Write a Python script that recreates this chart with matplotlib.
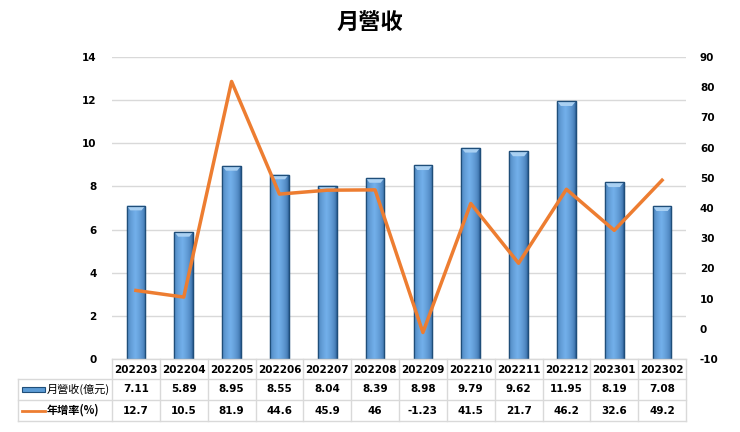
import matplotlib
matplotlib.use("Agg")
import matplotlib.pyplot as plt
import numpy as np
from matplotlib.patches import Rectangle, Polygon

plt.rcParams['font.family'] = ['DejaVu Sans', 'Noto Sans CJK TC']
plt.rcParams['axes.unicode_minus'] = False

months = ['202203', '202204', '202205', '202206', '202207', '202208',
          '202209', '202210', '202211', '202212', '202301', '202302']
revenue = [7.11, 5.89, 8.95, 8.55, 8.04, 8.39, 8.98, 9.79, 9.62, 11.95, 8.19, 7.08]
yoy = [12.7, 10.5, 81.9, 44.6, 45.9, 46, -1.23, 41.5, 21.7, 46.2, 32.6, 49.2]
rev_labels = ['7.11', '5.89', '8.95', '8.55', '8.04', '8.39', '8.98', '9.79', '9.62', '11.95', '8.19', '7.08']
yoy_labels = ['12.7', '10.5', '81.9', '44.6', '45.9', '46', '-1.23', '41.5', '21.7', '46.2', '32.6', '49.2']
series_names = ['月營收(億元)', '年增率(%)']
title = '月營收'

W, H = 740, 432
fig = plt.figure(figsize=(W / 100, H / 100), dpi=100)

def fx(px):
    return px / W

def fy(py):
    return 1 - py / H

L, R, T, B = 112, 686, 57, 359
ax = fig.add_axes([fx(L), fy(B), fx(R) - fx(L), fy(T) - fy(B)])
x = np.arange(len(months))
ax.set_xlim(-0.5, len(months) - 0.5)
ax.set_ylim(0, 14)
ax.set_yticks(np.arange(0, 15, 2))
for s in ax.spines.values():
    s.set_visible(False)
ax.tick_params(axis='both', length=0)
ax.set_xticks([])
ax.grid(axis='y', color='#d9d9d9', linewidth=1)
ax.set_axisbelow(True)
for lab in ax.get_yticklabels():
    lab.set_fontweight('bold')
    lab.set_fontsize(7.5)
ax.tick_params(axis='y', pad=11)

bar_w = 0.39
bars = ax.bar(x, revenue, width=bar_w, color='#5b9bd5', edgecolor='#1f4e79', linewidth=0.9, zorder=2)
# cylinder-like gradient
grad = np.linspace(0, 1, 64)
prof = 1 - np.abs(grad - 0.45) * 1.9
prof = np.clip(prof, 0, 1) ** 0.45
c_dark = np.array([0.18, 0.38, 0.60])
c_light = np.array([0.45, 0.69, 0.92])
img = c_dark[None, :] + (c_light - c_dark)[None, :] * prof[:, None]
img = img[None, :, :]
top_h = 0.22
for b in bars:
    x0, w, h = b.get_x(), b.get_width(), b.get_height()
    im = ax.imshow(img, extent=[x0, x0 + w, 0, h], aspect='auto', zorder=2.1, interpolation='bilinear')
    im.set_clip_path(b)
    ins = w * 0.2
    ax.add_patch(Polygon([(x0, h), (x0 + w, h), (x0 + w - ins, h - top_h), (x0 + ins, h - top_h)],
                         closed=True, facecolor='#a9d0f2', edgecolor='none', zorder=2.2))
    ax.add_patch(Rectangle((x0, 0), w, h, facecolor='none', edgecolor='#1f4e79', linewidth=0.9, zorder=2.3))

ax2 = ax.twinx()
ax2.set_ylim(-10, 90)
ax2.set_yticks(np.arange(-10, 91, 10))
for s in ax2.spines.values():
    s.set_visible(False)
ax2.tick_params(axis='y', length=0, pad=10)
for lab in ax2.get_yticklabels():
    lab.set_fontweight('bold')
    lab.set_fontsize(7.5)
ax2.plot(x, yoy, color='#ed7d31', linewidth=2.5, zorder=3)

fig.text(0.5, fy(22), title, ha='center', va='center', fontsize=16, fontweight='bold',
         family=['Noto Sans CJK TC', 'DejaVu Sans'])

# data table
TL = 18
rows_y = [359, 379, 400, 421]
tab = fig.add_axes([0, 0, 1, 1], facecolor='none')
tab.set_xlim(0, W)
tab.set_ylim(H, 0)
tab.axis('off')
cw = (R - L) / len(months)
gc = '#d9d9d9'
tab.plot([L, R], [rows_y[0], rows_y[0]], color=gc, lw=1)
for yy in rows_y[1:]:
    tab.plot([TL, R], [yy, yy], color=gc, lw=1)
for i in range(len(months) + 1):
    xx = L + i * cw
    tab.plot([xx, xx], [rows_y[0], rows_y[3]], color=gc, lw=1)
tab.plot([TL, TL], [rows_y[1], rows_y[3]], color=gc, lw=1)

fs = 7.5
for i, m in enumerate(months):
    cx = L + (i + 0.5) * cw
    tab.text(cx, (rows_y[0] + rows_y[1]) / 2 + 1, m, ha='center', va='center', fontsize=fs, fontweight='bold')
    tab.text(cx, (rows_y[1] + rows_y[2]) / 2, rev_labels[i], ha='center', va='center', fontsize=fs, fontweight='bold')
    tab.text(cx, (rows_y[2] + rows_y[3]) / 2, yoy_labels[i], ha='center', va='center', fontsize=fs, fontweight='bold')

r1 = (rows_y[1] + rows_y[2]) / 2
r2 = (rows_y[2] + rows_y[3]) / 2
tab.add_patch(Rectangle((22, r1 - 2.5), 23, 5, facecolor='#5b9bd5', edgecolor='#1f4e79', lw=0.8))
tab.plot([22, 45], [r2, r2], color='#ed7d31', lw=2)
tab.text(47, r1, series_names[0], ha='left', va='center', fontsize=8,
         family=['Noto Sans CJK TC', 'DejaVu Sans'])
tab.text(47, r2, series_names[1], ha='left', va='center', fontsize=8, fontweight='bold',
         family=['Noto Sans CJK TC', 'DejaVu Sans'])

fig.savefig('out.png', dpi=100)
